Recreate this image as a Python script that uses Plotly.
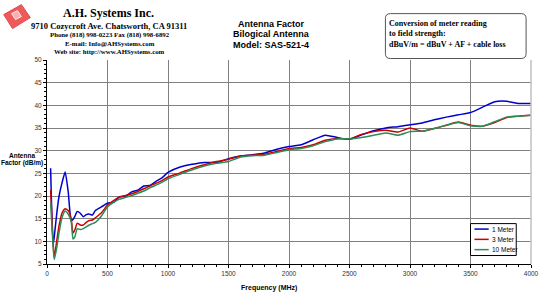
import plotly.graph_objects as go

freq = [30, 50, 60, 80, 100, 125, 150, 175, 200, 215, 230, 250, 275, 300, 325, 350, 375, 400,
        450, 500, 550, 600, 650, 700, 750, 800, 850, 900, 950, 1000, 1100, 1200, 1300, 1400,
        1500, 1600, 1700, 1800, 1900, 2000, 2100, 2200, 2300, 2400, 2500, 2600, 2700, 2800,
        2900, 3000, 3100, 3200, 3300, 3400, 3500, 3600, 3700, 3800, 3900, 4000]

af_1m = [26.1, 9.2, 11.0, 16.0, 20.0, 23.0, 25.3, 21.0, 14.6, 14.8, 15.5, 16.6, 16.2, 15.4, 15.9,
         16.0, 15.8, 16.8, 17.6, 18.4, 18.6, 19.8, 20.0, 20.9, 21.3, 22.2, 22.3, 23.2, 24.0, 25.2,
         26.4, 27.0, 27.4, 27.4, 28.2, 28.8, 29.1, 29.5, 30.3, 30.9, 31.3, 32.4, 33.4, 32.9, 32.5,
         33.5, 34.4, 35.0, 35.3, 35.7, 36.1, 36.8, 37.4, 37.9, 38.4, 39.6, 40.8, 40.9, 40.4, 40.4]

af_3m = [21.3, 10.0, 6.5, 10.0, 13.5, 16.3, 17.2, 16.8, 15.0, 11.8, 12.5, 14.0, 13.6, 13.6, 14.2,
         14.6, 14.7, 15.2, 16.3, 18.0, 19.0, 19.8, 20.1, 20.5, 21.0, 21.6, 22.2, 22.8, 23.4, 24.2,
         25.1, 26.1, 26.9, 27.6, 28.1, 28.8, 29.0, 29.2, 29.8, 30.5, 30.7, 31.3, 32.3, 32.7, 32.6,
         33.6, 34.2, 34.5, 34.1, 35.0, 34.3, 34.9, 35.6, 36.3, 35.6, 35.4, 36.2, 37.3, 37.6, 37.8]

af_10m = [18.5, 9.0, 6.0, 8.5, 12.0, 15.3, 16.7, 16.0, 14.3, 10.5, 11.0, 12.8, 12.6, 12.8, 13.2,
          13.6, 13.9, 14.2, 15.6, 17.6, 18.6, 19.3, 19.7, 20.1, 20.6, 21.1, 21.8, 22.4, 23.0, 23.8,
          24.8, 25.8, 26.6, 27.2, 27.6, 28.6, 28.9, 29.0, 29.6, 30.2, 30.5, 31.1, 32.0, 32.6, 32.6,
          32.9, 33.4, 33.9, 33.4, 34.2, 34.3, 34.9, 35.6, 36.2, 35.5, 35.4, 36.4, 37.4, 37.6, 37.8]

series_names = ["1 Meter", "3 Meter", "10 Meter"]
series_colors = ["#0000CC", "#CC0000", "#2E8B57"]

W, H = 550, 299
L, R, T, B = 47, 539, 59.5, 264


def xp(px):
    return (px - L) / (R - L)


def yp(py):
    return (B - py) / (B - T)


fig = go.Figure()
for name, vals, col in zip(series_names, [af_1m, af_3m, af_10m], series_colors):
    fig.add_trace(go.Scatter(x=freq, y=vals, mode="lines", name=name, showlegend=False,
                             line=dict(color=col, width=1.5, shape="spline", smoothing=0.5)))

serif = "Liberation Serif, Times New Roman, serif"
sans = "Liberation Sans, Arial, sans-serif"

ann = []


def txt(s, x, y, size, font=sans, bold=True, xanchor="center", color="#000"):
    ann.append(dict(text=("<b>%s</b>" % s) if bold else s, x=xp(x), y=yp(y), xref="paper",
                    yref="paper", showarrow=False, xanchor=xanchor, yanchor="middle",
                    font=dict(family=font, size=size, color=color)))


txt("A.H. Systems Inc.", 110, 12.5, 12, serif)
txt("9710 Cozycroft Ave. Chatsworth, CA 91311", 110, 25, 8.5, serif)
txt("Phone (818) 998-0223 Fax (818) 998-6892", 111, 34, 6.8, serif)
txt("E-mail: Info@AHSystems.com", 111, 42.5, 6.8, serif)
txt("Web site: http://www.AHSystems.com", 111, 51, 6.8, serif)

txt("Antenna Factor", 275, 23, 9)
txt("Bilogical Antenna", 275, 33.5, 9)
txt("Model: SAS-521-4", 275, 44, 9)

txt("Conversion of meter reading", 393, 22.5, 8, serif, xanchor="left")
txt("to field strength:", 393, 33, 8, serif, xanchor="left")
txt("dBuV/m = dBuV + AF + cable loss", 393, 43.5, 8, serif, xanchor="left")

txt("Antenna", 22, 155, 6.5)
txt("Factor (dB/m)", 22, 162.5, 6.5)
txt("Frequency (MHz)", 273, 288, 7)

# rounded box path (paper coordinates)
bx0, bx1, by0, by1, r = 391, 534, 13, 58, 5


def P(x, y):
    return "%.5f,%.5f" % (xp(x), yp(y))


box_path = ("M " + P(bx0 + r, by0) + " L " + P(bx1 - r, by0) + " Q " + P(bx1, by0) + " " + P(bx1, by0 + r)
            + " L " + P(bx1, by1 - r) + " Q " + P(bx1, by1) + " " + P(bx1 - r, by1)
            + " L " + P(bx0 + r, by1) + " Q " + P(bx0, by1) + " " + P(bx0, by1 - r)
            + " L " + P(bx0, by0 + r) + " Q " + P(bx0, by0) + " " + P(bx0 + r, by0) + " Z")

logo_path = "M " + P(3, 14) + " L " + P(21, 4) + " L " + P(30, 17) + " L " + P(12, 28) + " Z"
logo_inner = "M " + P(11, 13) + " L " + P(17, 10) + " L " + P(21, 16) + " L " + P(15, 19) + " Z"

shapes = [
    dict(type="path", path=box_path, xref="paper", yref="paper",
         line=dict(color="#555", width=1), fillcolor="rgba(0,0,0,0)"),
    dict(type="path", path=logo_path, xref="paper", yref="paper",
         line=dict(color="#e04848", width=1), fillcolor="#ee5a5a"),
    dict(type="path", path=logo_inner, xref="paper", yref="paper",
         line=dict(color="#ffffff", width=0.8), fillcolor="#f7b0b0"),
    dict(type="line", xref="paper", yref="paper", x0=1, x1=1, y0=0, y1=1,
         line=dict(color="#c0c0c0", width=1.5)),
    # legend box
    dict(type="rect", xref="paper", yref="paper", x0=xp(477.5), x1=xp(524), y0=yp(255.5), y1=yp(223.5),
         line=dict(color="#000", width=1), fillcolor="white"),
]

leg_y = [229, 239.3, 249.6]
for name, col, ly in zip(series_names, series_colors, leg_y):
    shapes.append(dict(type="line", xref="paper", yref="paper", x0=xp(481.5), x1=xp(496),
                       y0=yp(ly), y1=yp(ly), line=dict(color=col, width=1.5)))
    txt(name, 497, ly, 6.5, bold=False, xanchor="left")

fig.update_layout(
    width=W, height=H,
    margin=dict(l=L, r=W - R, t=T, b=H - B, pad=0),
    paper_bgcolor="white", plot_bgcolor="white",
    showlegend=False,
    annotations=ann,
    shapes=shapes,
    xaxis=dict(range=[0, 4000], dtick=500, tick0=0, showgrid=True, gridcolor="#808080",
               gridwidth=1.2, showline=True, linecolor="#000", linewidth=1, zeroline=False,
               ticks="outside", ticklen=3, tickcolor="#000",
               minor=dict(dtick=100, ticks="outside", ticklen=2, tickcolor="#000", showgrid=False),
               tickfont=dict(family=sans, size=6.5, color="#333")),
    yaxis=dict(range=[5, 50], dtick=5, tick0=0, showgrid=True, gridcolor="#808080",
               gridwidth=1.2, showline=True, linecolor="#000", linewidth=1, zeroline=False,
               ticks="outside", ticklen=3, tickcolor="#000",
               minor=dict(dtick=1, ticks="outside", ticklen=2, tickcolor="#000", showgrid=False),
               tickfont=dict(family=sans, size=6.5, color="#333")),
)

fig.write_html("out.html")
